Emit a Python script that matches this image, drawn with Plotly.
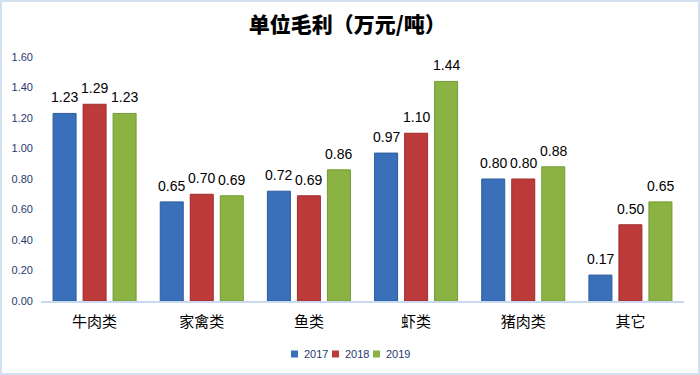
import plotly.graph_objects as go

categories = ["牛肉类", "家禽类", "鱼类", "虾类", "猪肉类", "其它"]
years = ["2017", "2018", "2019"]
v2017 = [1.23, 0.65, 0.72, 0.97, 0.80, 0.17]
v2018 = [1.29, 0.70, 0.69, 1.10, 0.80, 0.50]
v2019 = [1.23, 0.69, 0.86, 1.44, 0.88, 0.65]
series = [v2017, v2018, v2019]
colors = ["#3A70BA", "#BD3A3A", "#8BB343"]
line_colors = ["#2C5C9E", "#A02E2E", "#739A34"]
title_text = "单位毛利（万元/吨）"

W, H = 700, 375
ML, MR, MT, MB = 41, 16, 57, 74
PW, PH = W - ML - MR, H - MT - MB

fig = go.Figure()
for name, vals, c, lc in zip(years, series, colors, line_colors):
    fig.add_trace(go.Bar(
        x=categories, y=vals, name=name,
        marker=dict(color=c, line=dict(color=lc, width=1)),
        showlegend=False,
        hoverinfo="x+y+name",
    ))

# value labels
offsets = [-30, 0, 30]
for vals, dx in zip(series, offsets):
    for cat, v in zip(categories, vals):
        fig.add_annotation(
            x=cat, y=v, xref="x", yref="y",
            text=f"{v:.2f}", showarrow=False,
            xshift=dx, yshift=6, yanchor="bottom",
            font=dict(family="Liberation Sans, Arial", size=14, color="#000000"),
        )

# legend (manual, compact)
leg_y_px = 354
leg_items_x = [291, 332, 373]
for name, c, lx in zip(years, colors, leg_items_x):
    fig.add_shape(
        type="rect", xref="paper", yref="paper",
        x0=(lx - ML) / PW, x1=(lx + 7 - ML) / PW,
        y0=(H - MB - (leg_y_px + 3.5)) / PH, y1=(H - MB - (leg_y_px - 3.5)) / PH,
        fillcolor=c, line=dict(width=0),
    )
    fig.add_annotation(
        x=(lx + 11 - ML) / PW, y=(H - MB - leg_y_px) / PH,
        xref="paper", yref="paper", xanchor="left", yanchor="middle",
        text=name, showarrow=False,
        font=dict(family="Liberation Sans, Arial", size=11, color="#1F3A6E"),
    )

# outer frame
fig.add_shape(
    type="rect", xref="paper", yref="paper",
    x0=(1 - ML) / PW, x1=(W - 1 - ML) / PW,
    y0=(H - MB - (H - 1)) / PH, y1=(H - MB - 1) / PH,
    line=dict(color="#D3E0F0", width=2), fillcolor="rgba(0,0,0,0)",
    layer="below",
)

fig.update_layout(
    width=W, height=H,
    margin=dict(l=ML, r=MR, t=MT, b=MB),
    paper_bgcolor="#FFFFFF", plot_bgcolor="#FFFFFF",
    barmode="group", bargap=0.16, bargroupgap=0.233,
    title=dict(
        text=title_text, x=0.496, xanchor="center", y=1 - 25 / H, yanchor="middle",
        font=dict(family="Noto Sans CJK SC", size=21, color="#000000", weight=900),
    ),
    xaxis=dict(
        showgrid=False, showline=True, linecolor="#C9D9EE", linewidth=2,
        ticks="", tickfont=dict(family="Noto Sans CJK SC", size=15, color="#000000"),
        ticklabelstandoff=6,
    ),
    yaxis=dict(
        range=[0, 1.6], dtick=0.2, tickformat=".2f", showgrid=False,
        showline=False, zeroline=False, ticks="",
        tickfont=dict(family="Liberation Sans, Arial", size=11, color="#1F3A6E"),
        ticklabelstandoff=7,
    ),
    showlegend=False,
)

fig.write_html(
    "out.html",
    config={"displayModeBar": False},
    post_script="document.body.style.margin='0';document.body.style.overflow='hidden';",
)
